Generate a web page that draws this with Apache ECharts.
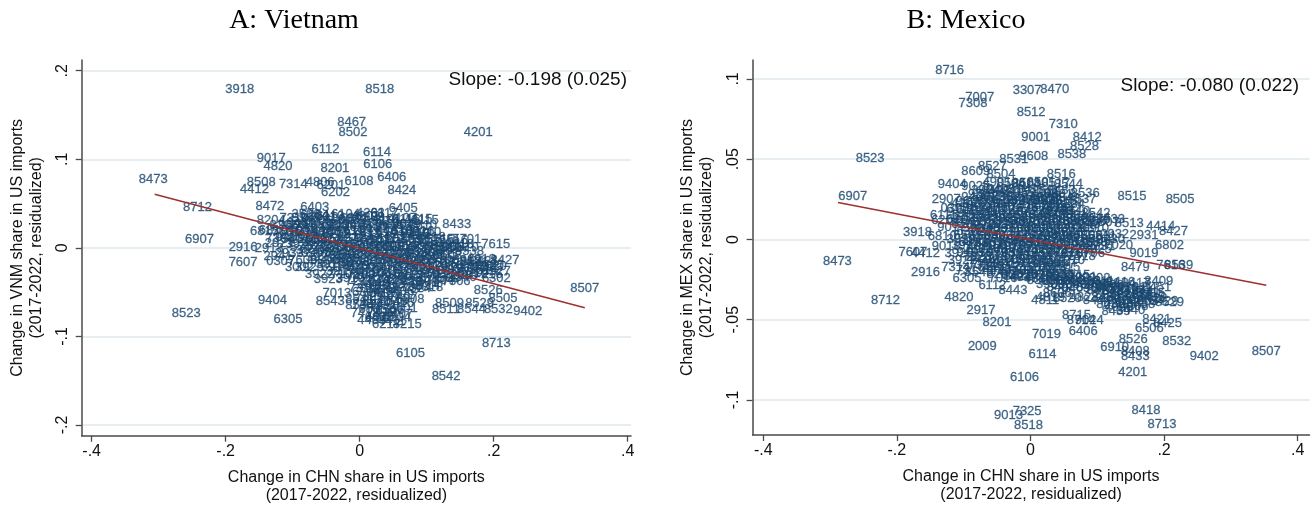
<!DOCTYPE html>
<html>
<head>
<meta charset="utf-8">
<script src="https://cdn.jsdelivr.net/npm/echarts@6.0.0/dist/echarts.min.js"></script>
<style>
html,body{margin:0;padding:0;background:#fff;}
#chart{width:1315px;height:505px;}
</style>
</head>
<body>
<div id="chart"></div>
<script>
// ---------- Data ----------
// Panel A: Vietnam  [change in CHN share, change in VNM share, HS code]
const vnmLabeled = [
[-0.179,0.179,'3918'],[0.030,0.179,'8518'],[-0.012,0.142,'8467'],[-0.010,0.130,'8502'],[0.177,0.130,'4201'],
[-0.051,0.111,'6112'],[0.026,0.108,'6114'],[-0.132,0.101,'9017'],[-0.122,0.092,'4820'],[-0.037,0.090,'8201'],
[0.027,0.094,'6106'],[0.048,0.080,'6406'],[-0.308,0.077,'8473'],[-0.001,0.075,'6108'],[0.063,0.065,'8424'],
[-0.147,0.074,'8508'],[-0.099,0.072,'7314'],[-0.157,0.066,'4412'],[-0.059,0.074,'4806'],[-0.043,0.071,'6201'],
[-0.036,0.063,'6202'],[-0.134,0.047,'8472'],[-0.242,0.046,'8712'],[-0.067,0.046,'6403'],[0.065,0.045,'6405'],
[0.016,0.039,'4203'],[-0.067,0.037,'6204'],[-0.132,0.031,'8204'],[0.069,0.032,'6116'],[0.097,0.031,'6115'],
[0.094,0.025,'7610'],[0.145,0.027,'8433'],[-0.239,0.010,'6907'],[-0.174,0.000,'2916'],[-0.135,-0.001,'2918'],
[0.203,0.004,'7615'],[-0.174,-0.017,'7607'],[-0.118,-0.015,'0307'],[-0.085,-0.014,'7609'],[0.217,-0.014,'8427'],
[0.186,-0.015,'8421'],[-0.047,-0.036,'3923'],[0.204,-0.035,'6302'],[0.192,-0.048,'8526'],[0.336,-0.046,'8507'],
[0.214,-0.057,'8505'],[-0.130,-0.059,'9404'],[-0.044,-0.060,'8543'],[-0.034,-0.051,'7013'],[0.000,-0.065,'8534'],
[-0.259,-0.074,'8523'],[-0.107,-0.081,'6305'],[0.071,-0.086,'8215'],[0.134,-0.063,'8509'],[0.179,-0.063,'8529'],
[0.129,-0.070,'8511'],[0.167,-0.070,'8544'],[0.207,-0.070,'8532'],[0.251,-0.072,'9402'],[0.029,-0.078,'6402'],
[0.029,-0.042,'4011'],[0.103,-0.045,'4818'],[0.204,-0.108,'8713'],[0.076,-0.119,'6105'],[0.129,-0.145,'8542'],
[-0.129,0.020,'6810'],[-0.119,0.011,'7308']
];
const vnmCluster = [
[-0.044,0.036,'6110'],[-0.021,0.038,'6104'],[0.009,0.035,'4202'],[0.037,0.039,'6117'],
[-0.088,0.028,'9401'],[-0.062,0.030,'6205'],[-0.036,0.027,'6211'],[-0.011,0.031,'6102'],[0.012,0.028,'6103'],[0.038,0.030,'6214'],[0.060,0.027,'6404'],
[-0.096,0.020,'9403'],[-0.073,0.022,'6303'],[-0.050,0.019,'4303'],[-0.026,0.023,'6206'],[-0.003,0.020,'6109'],[0.021,0.022,'6107'],[0.046,0.019,'6401'],[0.068,0.021,'4205'],[0.090,0.018,'8516'],
[-0.104,0.012,'9405'],[-0.081,0.014,'7326'],[-0.059,0.011,'6307'],[-0.035,0.015,'6208'],[-0.012,0.012,'6212'],[0.012,0.014,'6113'],[0.036,0.011,'6111'],[0.060,0.013,'8414'],[0.083,0.015,'8415'],[0.107,0.012,'8418'],
[-0.089,0.004,'3924'],[-0.065,0.006,'3926'],[-0.041,0.003,'7323'],[-0.017,0.006,'8513'],[0.006,0.004,'6210'],[0.030,0.007,'6209'],[0.054,0.003,'8471'],[0.078,0.005,'8450'],[0.102,0.006,'8419'],[0.127,0.003,'8481'],[0.149,0.004,'9018'],
[-0.074,-0.003,'3920'],[-0.050,-0.001,'7321'],[-0.026,-0.004,'8211'],[-0.002,-0.001,'6203'],[0.021,-0.003,'6213'],[0.045,0.000,'9506'],[0.069,-0.004,'9503'],[0.093,-0.002,'8528'],[0.117,-0.003,'8536'],[0.142,-0.001,'8537'],[0.164,-0.004,'8538'],
[-0.059,-0.011,'3921'],[-0.035,-0.009,'7318'],[-0.011,-0.012,'8302'],[0.012,-0.009,'8301'],[0.036,-0.011,'9504'],[0.060,-0.008,'9505'],[0.084,-0.012,'8504'],[0.108,-0.010,'8501'],[0.131,-0.009,'8503'],
[-0.044,-0.019,'3916'],[-0.020,-0.017,'7307'],[0.003,-0.020,'8205'],[0.027,-0.017,'8207'],[0.051,-0.019,'8482'],[0.075,-0.016,'8483'],[0.099,-0.020,'8512'],[0.123,-0.018,'8517'],[0.147,-0.019,'8519'],[0.171,-0.017,'8521'],[0.194,-0.020,'8525'],
[-0.029,-0.027,'3917'],[-0.005,-0.025,'7317'],[0.018,-0.028,'8203'],[0.042,-0.025,'8208'],[0.066,-0.027,'8413'],[0.090,-0.024,'8423'],[0.114,-0.027,'8468'],[0.138,-0.026,'8506'],[0.162,-0.028,'8510'],[0.185,-0.025,'8514'],[0.204,-0.027,'8527'],
[-0.014,-0.035,'3919'],[0.009,-0.033,'7315'],[0.033,-0.036,'8202'],[0.057,-0.033,'8409'],[0.081,-0.035,'8431'],[0.105,-0.034,'8535'],[0.129,-0.035,'8539'],[0.153,-0.033,'8540'],
[0.018,-0.043,'4016'],[0.045,-0.041,'4012'],[0.072,-0.044,'8708'],[0.099,-0.042,'8714'],
[0.010,-0.050,'6304'],[0.035,-0.052,'6306'],[0.060,-0.049,'9406'],[0.000,-0.058,'8541'],[0.025,-0.061,'8546'],[0.050,-0.060,'8548'],[0.075,-0.058,'6308'],
[0.020,-0.069,'6505'],[0.045,-0.071,'6506'],[0.065,-0.068,'6601'],[0.030,-0.079,'4015'],[0.055,-0.078,'4204'],[0.040,-0.086,'6217'],
[-0.120,0.005,'2921'],[-0.105,-0.006,'2933'],[-0.090,-0.022,'3002'],[-0.122,-0.010,'2941'],[-0.075,-0.022,'3925'],[-0.060,-0.030,'3922'],
[-0.142,0.018,'6815'],[-0.113,0.025,'8206'],[-0.098,0.033,'7310'],[-0.080,0.038,'3506']
];
const vnmClusterFill = [
[-0.080,0.033,'5208'],[-0.056,0.034,'6001'],[-0.032,0.032,'6006'],[-0.008,0.033,'6301'],[0.016,0.034,'6309'],[0.040,0.032,'4101'],[0.064,0.033,'4107'],[0.088,0.032,'4115'],
[-0.100,0.025,'9603'],[-0.076,0.026,'9605'],[-0.052,0.024,'9606'],[-0.028,0.025,'9607'],[-0.004,0.026,'9609'],[0.020,0.024,'9613'],[0.044,0.025,'9615'],[0.070,0.026,'9619'],
[-0.110,0.017,'7601'],[-0.086,0.018,'7604'],[-0.062,0.016,'7606'],[-0.038,0.017,'7608'],[-0.014,0.018,'7611'],[0.010,0.016,'7612'],[0.034,0.017,'7614'],[0.058,0.018,'7616'],[0.082,0.016,'8209'],[0.100,0.017,'8210'],
[-0.096,0.009,'5401'],[-0.072,0.010,'5402'],[-0.048,0.008,'5403'],[-0.024,0.009,'5407'],[0.000,0.010,'5408'],[0.024,0.008,'5501'],[0.048,0.009,'5503'],[0.072,0.010,'5509'],[0.096,0.008,'5512'],[0.120,0.009,'5515'],[0.140,0.008,'5516'],[0.160,0.009,'5701'],
[-0.082,0.001,'5702'],[-0.058,0.002,'5703'],[-0.034,0.000,'5705'],[-0.010,0.001,'5801'],[0.014,0.002,'5806'],[0.038,0.000,'5807'],[0.062,0.001,'5903'],[0.086,0.002,'5906'],[0.110,0.000,'5911'],[0.134,0.001,'6005'],[0.156,0.000,'6310'],
[-0.066,-0.006,'6501'],[-0.042,-0.005,'6504'],[-0.018,-0.007,'6602'],[0.006,-0.006,'6603'],[0.030,-0.005,'6702'],[0.054,-0.007,'6704'],[0.078,-0.006,'6802'],[0.102,-0.005,'6804'],[0.124,-0.007,'6805'],
[-0.052,-0.014,'6806'],[-0.028,-0.013,'6809'],[-0.004,-0.015,'6811'],[0.020,-0.014,'6813'],[0.044,-0.013,'6901'],[0.068,-0.015,'6904'],[0.092,-0.014,'6908'],[0.116,-0.013,'6910'],[0.140,-0.015,'6911'],[0.160,-0.014,'6912'],[0.182,-0.013,'6913'],
[-0.036,-0.022,'6914'],[-0.012,-0.021,'7001'],[0.012,-0.023,'7005'],[0.036,-0.022,'7007'],[0.060,-0.021,'7009'],[0.084,-0.023,'7010'],[0.108,-0.022,'7011'],[0.132,-0.021,'7016'],[0.156,-0.023,'7018'],[0.178,-0.022,'7019'],[0.198,-0.021,'7020'],
[-0.022,-0.030,'7102'],[0.002,-0.031,'7103'],[0.026,-0.029,'7106'],[0.050,-0.030,'7108'],[0.074,-0.031,'7113'],[0.098,-0.029,'7116'],[0.122,-0.030,'7117'],[0.146,-0.031,'7208'],[0.170,-0.029,'7210'],[0.192,-0.030,'7216'],
[0.000,-0.038,'7217'],[0.024,-0.039,'7219'],[0.048,-0.037,'7225'],[0.072,-0.038,'7228'],[0.096,-0.039,'7301'],[0.120,-0.037,'7304'],[0.144,-0.038,'7306'],
[0.005,-0.046,'7312'],[0.032,-0.047,'7320'],[0.058,-0.045,'7322'],[0.085,-0.046,'7324'],
[0.015,-0.055,'7325'],[0.040,-0.054,'7403'],[0.065,-0.056,'7407'],
[0.010,-0.064,'7408'],[0.035,-0.065,'7411'],[0.060,-0.063,'7415'],
[0.008,-0.074,'7418'],[0.033,-0.073,'7419'],[0.058,-0.075,'4407'],
[0.018,-0.082,'4409'],[0.048,-0.083,'4411']
];
const vnmFit = [[-0.306,0.0605],[0.336,-0.0676]];

// Panel B: Mexico  [change in CHN share, change in MEX share, HS code]
const mexLabeled = [
[-0.121,0.1055,'8716'],[-0.005,0.0926,'3307'],[0.0365,0.0935,'8470'],[-0.076,0.0885,'7007'],[-0.086,0.0847,'7308'],
[0.001,0.0789,'8512'],[0.049,0.0718,'7310'],[0.008,0.0636,'9001'],[0.085,0.0633,'8412'],[0.081,0.0577,'8528'],
[0.062,0.0531,'8538'],[-0.240,0.0502,'8523'],[-0.025,0.0498,'8531'],[0.005,0.0515,'9608'],[-0.082,0.0427,'8609'],
[-0.057,0.0452,'8527'],[-0.044,0.0407,'8504'],[0.046,0.0407,'8516'],[-0.117,0.0345,'9404'],[-0.082,0.0328,'9025'],
[-0.050,0.0353,'4901'],[-0.006,0.0349,'8503'],[-0.052,0.0297,'9403'],[0.082,0.0287,'8536'],[0.077,0.0249,'8537'],
[0.152,0.027,'8515'],[0.224,0.0249,'8505'],[-0.266,0.027,'6907'],[-0.126,0.0251,'2907'],[0.022,0.0245,'3006'],
[-0.113,0.0193,'0307'],[-0.130,0.0151,'6111'],[-0.127,0.0116,'6204'],[0.044,0.0176,'8703'],[0.098,0.0162,'8542'],
[0.148,0.010,'8513'],[0.195,0.0079,'4414'],[0.214,0.0052,'8427'],[0.126,0.0033,'2932'],[0.170,0.0027,'2931'],
[-0.169,0.0044,'3918'],[-0.132,0.0016,'6810'],[0.208,-0.0040,'6802'],[0.132,-0.0036,'7020'],[0.170,-0.0087,'9019'],
[-0.289,-0.0139,'8473'],[-0.176,-0.0081,'7607'],[-0.157,-0.0087,'4412'],[-0.126,-0.0046,'9018'],[-0.107,-0.0087,'3926'],
[0.157,-0.0171,'8479'],[0.210,-0.016,'7616'],[0.222,-0.016,'8539'],[-0.157,-0.0208,'2916'],[-0.112,-0.0171,'7314'],
[-0.072,-0.016,'7324'],[-0.077,-0.0208,'8543'],[-0.095,-0.0243,'6305'],[-0.041,-0.0243,'7016'],[-0.019,-0.0229,'8424'],
[-0.057,-0.0285,'6112'],[-0.026,-0.032,'8443'],[0.044,-0.0233,'8608'],[0.022,-0.0378,'4811'],[-0.217,-0.0378,'8712'],
[-0.107,-0.0358,'4820'],[-0.074,-0.044,'2917'],[-0.050,-0.0517,'8201'],[0.069,-0.0472,'8715'],[0.076,-0.0503,'8714'],
[0.088,-0.0503,'9024'],[0.024,-0.0592,'7019'],[0.079,-0.0571,'6406'],[0.189,-0.0498,'8421'],[0.205,-0.052,'8425'],
[0.178,-0.0551,'6506'],[0.154,-0.0623,'8526'],[0.219,-0.0632,'8532'],[-0.072,-0.0665,'2009'],[0.126,-0.0673,'6910'],
[0.157,-0.070,'8408'],[0.157,-0.0731,'8433'],[0.260,-0.0731,'9402'],[0.353,-0.0696,'8507'],[0.018,-0.0717,'6114'],
[0.153,-0.0831,'4201'],[-0.009,-0.086,'6106'],[-0.005,-0.1074,'7325'],[-0.033,-0.1095,'9013'],[-0.003,-0.1157,'8518'],
[0.173,-0.1068,'8418'],[0.197,-0.1151,'8713'],[0.208,-0.0395,'8529'],[0.192,-0.0264,'8409'],[0.189,-0.0299,'8451'],
[0.183,-0.0368,'8428'],[0.200,-0.0385,'8429']
];
const mexCluster = [
[-0.029,0.0352,'8506'],[-0.007,0.0345,'8414'],[0.016,0.0356,'8501'],[0.038,0.0349,'8517'],[0.057,0.0341,'8544'],
[-0.067,0.0305,'3924'],[-0.044,0.0312,'9405'],[-0.022,0.0302,'8419'],[0.001,0.0310,'8415'],[0.023,0.0300,'8511'],[0.046,0.0308,'8483'],
[-0.082,0.0262,'9406'],[-0.059,0.0268,'3923'],[-0.037,0.0259,'8302'],[-0.014,0.0266,'8481'],[0.008,0.0257,'8482'],[0.031,0.0265,'8708'],[0.053,0.0258,'8548'],
[-0.097,0.0222,'4202'],[-0.074,0.0215,'3920'],[-0.052,0.0224,'7318'],[-0.029,0.0217,'8471'],[-0.007,0.0225,'8472'],[0.016,0.0214,'8525'],[0.038,0.0221,'8502'],[0.060,0.0216,'8534'],
[-0.089,0.0178,'6109'],[-0.067,0.0172,'6110'],[-0.044,0.0180,'4016'],[-0.022,0.0170,'8407'],[0.001,0.0177,'8413'],[0.023,0.0171,'8422'],[0.046,0.0179,'8431'],[0.068,0.0173,'8510'],
[-0.104,0.0128,'6203'],[-0.082,0.0135,'6206'],[-0.059,0.0126,'7326'],[-0.037,0.0134,'3921'],[-0.014,0.0127,'8535'],[0.008,0.0133,'8546'],[0.031,0.0125,'8530'],[0.053,0.0132,'8484'],[0.075,0.0127,'8509'],[0.098,0.0134,'8514'],[0.120,0.0126,'8533'],
[-0.097,0.0092,'6104'],[-0.074,0.0086,'6212'],[-0.052,0.0093,'7317'],[-0.029,0.0085,'7307'],[-0.007,0.0091,'8480'],[0.016,0.0084,'8450'],[0.038,0.0092,'8519'],[0.060,0.0087,'8522'],[0.083,0.0093,'8545'],
[-0.089,0.0048,'6302'],[-0.067,0.0042,'6307'],[-0.044,0.0049,'7321'],[-0.022,0.0041,'7323'],[0.001,0.0046,'8452'],[0.023,0.0040,'8456'],[0.046,0.0047,'8462'],[0.068,0.0043,'8466'],
[-0.104,0.0003,'3919'],[-0.082,-0.0004,'3916'],[-0.059,0.0002,'7304'],[-0.037,-0.0005,'7306'],[-0.014,0.0001,'8467'],[0.008,-0.0003,'8468'],[0.031,0.0004,'8474'],[0.053,-0.0002,'8477'],[0.075,0.0003,'8486'],[0.098,-0.0004,'8487'],[0.120,0.0002,'9030'],
[-0.097,-0.0038,'3917'],[-0.074,-0.0045,'4010'],[-0.052,-0.0036,'4011'],[-0.029,-0.0044,'4015'],[-0.007,-0.0037,'7009'],[0.016,-0.0043,'7013'],[0.038,-0.0035,'8301'],[0.060,-0.0042,'9026'],[0.083,-0.0038,'9027'],[0.105,-0.0044,'9031'],
[-0.089,-0.0082,'9401'],[-0.067,-0.0088,'9507'],[-0.044,-0.0081,'9503'],[-0.022,-0.0089,'9504'],[0.001,-0.0083,'9505'],[0.023,-0.0087,'9506'],[0.046,-0.0080,'8711'],[0.068,-0.0089,'8707'],[0.090,-0.0084,'8706'],
[-0.074,-0.0127,'4418'],[-0.052,-0.0134,'4421'],[-0.029,-0.0126,'6809'],[-0.007,-0.0133,'6908'],[0.016,-0.0128,'6911'],[0.038,-0.0135,'6912'],[0.060,-0.0129,'7010'],
[-0.059,-0.0168,'7113'],[-0.037,-0.0175,'7117'],[-0.014,-0.0167,'7210'],[0.008,-0.0174,'7216'],[0.031,-0.0166,'7312'],[0.053,-0.0173,'7315'],
[-0.044,-0.0218,'8203'],[-0.022,-0.0223,'8205'],[0.001,-0.0216,'8207'],[0.023,-0.0224,'8208'],[0.046,-0.0217,'8211'],[0.068,-0.0222,'8215'],
[0.016,-0.0258,'8305'],[0.038,-0.0264,'8308'],[0.060,-0.0257,'8309'],[0.083,-0.0263,'8310'],[0.105,-0.0259,'8311'],
[0.046,-0.0298,'8402'],[0.068,-0.0304,'8403'],[0.090,-0.0297,'8404'],[0.113,-0.0303,'8405'],
[0.113,-0.0272,'8411'],[0.135,-0.0268,'8416'],[0.158,-0.0274,'8417'],
[0.105,-0.0318,'8420'],[0.128,-0.0324,'8423'],[0.150,-0.0316,'8426'],[0.173,-0.0322,'8441'],
[0.113,-0.0359,'8430'],[0.135,-0.0364,'8432'],[0.158,-0.0357,'8434'],[0.180,-0.0363,'8435'],
[0.120,-0.0402,'8436'],[0.143,-0.0398,'8437'],[0.165,-0.0404,'8438'],
[0.128,-0.0447,'8439'],[0.150,-0.0443,'8440'],
[-0.105,0.0185,'6117'],[-0.118,0.0075,'9017'],[-0.102,-0.013,'3922'],[-0.090,-0.019,'7319'],
[0.030,-0.036,'4819'],[0.055,-0.037,'8520'],[0.080,-0.036,'4823'],[0.040,-0.0335,'8606'],[0.100,-0.038,'8444']
];
const mexClusterFill = [
[-0.072,0.0283,'9201'],[-0.025,0.0285,'9205'],[0.020,0.0284,'9209'],[0.042,0.0280,'9601'],
[-0.090,0.0238,'9603'],[-0.066,0.0243,'9605'],[-0.042,0.0236,'9606'],[-0.018,0.0242,'9607'],[0.004,0.0237,'9609'],[0.026,0.0244,'9613'],[0.048,0.0239,'9615'],
[-0.080,0.0197,'9619'],[-0.056,0.0192,'7601'],[-0.034,0.0198,'7604'],[-0.010,0.0193,'7606'],[0.012,0.0199,'7608'],[0.034,0.0191,'7611'],[0.056,0.0196,'7612'],
[-0.096,0.0152,'5208'],[-0.072,0.0147,'5209'],[-0.048,0.0153,'5401'],[-0.026,0.0146,'5402'],[-0.003,0.0151,'5403'],[0.020,0.0148,'5407'],[0.042,0.0154,'5408'],[0.064,0.0147,'5501'],
[-0.090,0.0112,'5512'],[-0.066,0.0107,'5515'],[-0.042,0.0113,'5516'],[-0.018,0.0106,'5701'],[0.004,0.0111,'5702'],[0.026,0.0108,'5703'],[0.048,0.0114,'5705'],[0.070,0.0107,'5801'],[0.092,0.0112,'5806'],[0.112,0.0109,'5807'],
[-0.080,0.0070,'5903'],[-0.056,0.0065,'5906'],[-0.034,0.0071,'5911'],[-0.010,0.0066,'6001'],[0.012,0.0069,'6005'],[0.034,0.0064,'6006'],[0.056,0.0070,'6301'],[0.078,0.0066,'6309'],[0.096,0.0071,'6310'],
[-0.094,0.0024,'6501'],[-0.070,0.0019,'6504'],[-0.048,0.0025,'6602'],[-0.026,0.0020,'6603'],[-0.002,0.0023,'6702'],[0.020,0.0018,'6704'],[0.042,0.0024,'6804'],[0.064,0.0021,'6805'],[0.086,0.0025,'6806'],[0.108,0.0019,'6811'],
[-0.086,-0.0018,'6813'],[-0.062,-0.0023,'6901'],[-0.040,-0.0017,'6904'],[-0.018,-0.0024,'6913'],[0.005,-0.0019,'6914'],[0.028,-0.0022,'7001'],[0.050,-0.0016,'7005'],[0.072,-0.0023,'7011'],[0.094,-0.0018,'7018'],
[-0.078,-0.0060,'7102'],[-0.056,-0.0065,'7103'],[-0.032,-0.0059,'7106'],[-0.010,-0.0064,'7108'],[0.012,-0.0061,'7116'],[0.034,-0.0066,'7208'],[0.056,-0.0060,'7217'],[0.078,-0.0063,'7219'],[0.100,-0.0059,'7225'],
[-0.080,-0.0103,'7228'],[-0.058,-0.0108,'7301'],[-0.034,-0.0102,'7403'],[-0.012,-0.0107,'7407'],[0.010,-0.0104,'7408'],[0.032,-0.0109,'7411'],[0.054,-0.0103,'7415'],[0.076,-0.0106,'7418'],
[-0.066,-0.0148,'7419'],[-0.044,-0.0153,'4101'],[-0.020,-0.0147,'4107'],[0.002,-0.0152,'4115'],[0.024,-0.0149,'4401'],[0.046,-0.0154,'4407'],
[-0.050,-0.0193,'4415'],[-0.028,-0.0198,'4420'],[-0.006,-0.0192,'4802'],[0.016,-0.0197,'4804'],[0.038,-0.0194,'4805'],
[-0.010,-0.0238,'4817'],[0.012,-0.0243,'4818'],[0.034,-0.0237,'4821'],[0.056,-0.0242,'4822'],[0.078,-0.0239,'3901'],[0.098,-0.0244,'3902'],
[0.030,-0.0282,'3903'],[0.052,-0.0277,'3904'],[0.074,-0.0283,'3906'],[0.096,-0.0278,'3907'],[0.118,-0.0284,'3908'],
[0.120,-0.0298,'3909'],[0.140,-0.0302,'3910'],[0.162,-0.0297,'3911'],[0.118,-0.0342,'3912'],[0.140,-0.0337,'3913'],[0.162,-0.0343,'3914'],[0.180,-0.0338,'3915'],
[0.125,-0.0382,'4001'],[0.148,-0.0378,'4002'],[0.170,-0.0383,'4005'],[0.132,-0.0422,'4006'],[0.155,-0.0418,'4008']
];
const mexFit = [[-0.288,0.0230],[0.353,-0.0285]];

// Axis ticks
const xTicks = [-0.4, -0.2, 0, 0.2, 0.4];
const vnmYTicks = [-0.2, -0.1, 0, 0.1, 0.2];
const mexYTicks = [-0.1, -0.05, 0, 0.05, 0.1];

const titles = ['A: Vietnam', 'B: Mexico'];
const slopeTexts = ['Slope: -0.198 (0.025)', 'Slope: -0.080 (0.022)'];
const xTitle = 'Change in CHN share in US imports\n(2017-2022, residualized)';
const yTitles = ['Change in VNM share in US imports\n(2017-2022, residualized)',
                 'Change in MEX share in US imports\n(2017-2022, residualized)'];

// ---------- Styling ----------
const SANS = '"Liberation Sans", Arial, Helvetica, sans-serif';
const SERIF = '"Liberation Serif", "Times New Roman", serif';
const LABEL_COLOR = '#1a476f';
const AXIS_COLOR = '#4a4a4a';
const GRID_COLOR = '#e6eef1';
const FIT_COLOR = '#a03030';

function stataFmt(v) {
  if (Math.abs(v) < 1e-12) return '0';
  const s = String(Math.abs(v)).replace(/^0\./, '.');
  return (v < 0 ? '-' : '') + s;
}

function xAxisCfg(gridIndex, min, max) {
  return {
    type: 'value', gridIndex, min, max,
    name: xTitle, nameLocation: 'middle', nameGap: 33,
    nameTextStyle: {fontFamily: SANS, fontSize: 16, color: '#111', lineHeight: 18},
    axisLine: {show: true, onZero: false, lineStyle: {color: AXIS_COLOR, width: 1.5}},
    axisTick: {show: true, length: 6, customValues: xTicks, lineStyle: {color: AXIS_COLOR, width: 1.3}},
    axisLabel: {show: true, customValues: xTicks, formatter: stataFmt, margin: 8,
      fontFamily: SANS, fontSize: 16, color: '#111'},
    splitLine: {show: false}
  };
}
function yAxisCfg(gridIndex, min, max, ticks, name, gap) {
  return {
    type: 'value', gridIndex, min, max,
    name, nameLocation: 'middle', nameGap: gap, nameRotate: 90,
    nameTextStyle: {fontFamily: SANS, fontSize: 16, color: '#111', lineHeight: 19},
    axisLine: {show: true, onZero: false, lineStyle: {color: AXIS_COLOR, width: 1.5}},
    axisTick: {show: true, length: 6, customValues: ticks, lineStyle: {color: AXIS_COLOR, width: 1.3}},
    axisLabel: {show: true, customValues: ticks, formatter: stataFmt, rotate: 90, margin: 11,
      fontFamily: SANS, fontSize: 16, color: '#111'},
    splitLine: {show: false}
  };
}
function gridLineSeries(axisIndex, ticks) {
  return {
    type: 'scatter', xAxisIndex: axisIndex, yAxisIndex: axisIndex, z: 0,
    data: [[0, 0]], symbolSize: 0, silent: true,
    itemStyle: {color: 'rgba(0,0,0,0)'},
    markLine: {
      z: 0, silent: true, symbol: ['none', 'none'], animation: false,
      label: {show: false},
      lineStyle: {color: GRID_COLOR, width: 2, type: 'solid'},
      emphasis: {disabled: true},
      data: ticks.map(v => ({yAxis: v}))
    }
  };
}
function labelSeries(axisIndex, data) {
  return {
    type: 'scatter', xAxisIndex: axisIndex, yAxisIndex: axisIndex, z: 2,
    data, symbol: 'circle', symbolSize: 0, silent: true,
    itemStyle: {color: 'rgba(0,0,0,0)'},
    encode: {x: 0, y: 1},
    label: {show: true, position: 'inside', formatter: p => p.value[2],
      color: LABEL_COLOR, fontFamily: SANS, fontSize: 13,
      textBorderColor: LABEL_COLOR, textBorderWidth: 0.3},
    emphasis: {disabled: true}
  };
}
function fitSeries(axisIndex, data) {
  return {
    type: 'line', xAxisIndex: axisIndex, yAxisIndex: axisIndex, z: 3,
    data, symbol: 'none', silent: true,
    lineStyle: {color: FIT_COLOR, width: 1.6}
  };
}

const chart = echarts.init(document.getElementById('chart'), null, {renderer: 'canvas'});
chart.setOption({
  animation: false,
  backgroundColor: '#ffffff',
  grid: [
    {left: 81.7, top: 60, width: 549.3, height: 375.7, outerBoundsMode: 'none', containLabel: false},
    {left: 752.6, top: 60, width: 556.9, height: 375, outerBoundsMode: 'none', containLabel: false}
  ],
  xAxis: [xAxisCfg(0, -0.4149, 0.405), xAxisCfg(1, -0.4159, 0.4177)],
  yAxis: [
    yAxisCfg(0, -0.2121, 0.2121, vnmYTicks, yTitles[0], 36),
    yAxisCfg(1, -0.1218, 0.1118, mexYTicks, yTitles[1], 37)
  ],
  series: [
    gridLineSeries(0, vnmYTicks),
    labelSeries(0, vnmLabeled.concat(vnmCluster, vnmClusterFill)),
    fitSeries(0, vnmFit),
    gridLineSeries(1, mexYTicks),
    labelSeries(1, mexLabeled.concat(mexCluster, mexClusterFill)),
    fitSeries(1, mexFit)
  ],
  graphic: [
    {type: 'text', x: 294, y: 21, silent: true, z: 100,
      style: {text: titles[0], fontFamily: SERIF, fontSize: 28, fill: '#000', align: 'center', verticalAlign: 'middle'}},
    {type: 'text', x: 966, y: 21, silent: true, z: 100,
      style: {text: titles[1], fontFamily: SERIF, fontSize: 28, fill: '#000', align: 'center', verticalAlign: 'middle'}},
    {type: 'text', x: 627, y: 80, silent: true, z: 100,
      style: {text: slopeTexts[0], fontFamily: SANS, fontSize: 19, fill: '#111', align: 'right', verticalAlign: 'middle'}},
    {type: 'text', x: 1299, y: 86, silent: true, z: 100,
      style: {text: slopeTexts[1], fontFamily: SANS, fontSize: 19, fill: '#111', align: 'right', verticalAlign: 'middle'}}
  ]
});
</script>
</body>
</html>
